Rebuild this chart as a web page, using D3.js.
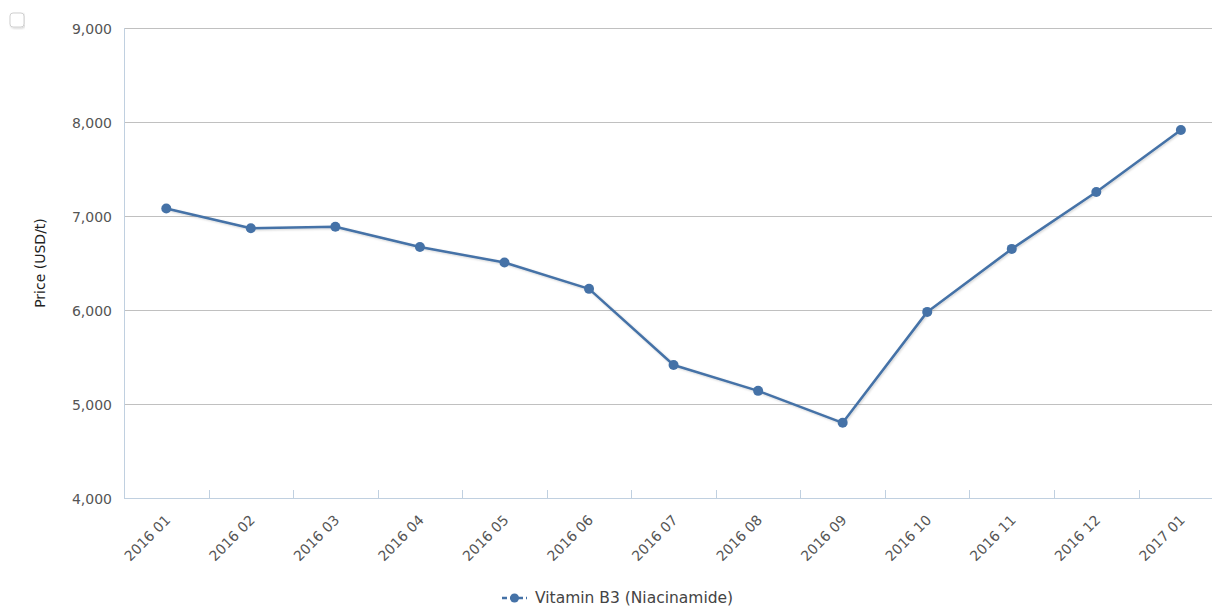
<!DOCTYPE html>
<html>
<head>
<meta charset="utf-8">
<script src="https://cdn.jsdelivr.net/npm/d3@7"></script>
<style>
  body { margin: 0; background: #fff; }
  svg { display: block; font-family: "DejaVu Sans", Verdana, sans-serif; }
</style>
</head>
<body>
<div id="chart"></div>
<script>
var months = ["2016 01", "2016 02", "2016 03", "2016 04", "2016 05", "2016 06", "2016 07",
              "2016 08", "2016 09", "2016 10", "2016 11", "2016 12", "2017 01"];
var prices = [7080, 6870, 6885, 6670, 6505, 6225, 5415, 5140, 4800, 5980, 6650, 7255, 7915];
var yTicks = [4000, 5000, 6000, 7000, 8000, 9000];
var seriesName = "Vitamin B3 (Niacinamide)";
var yTitle = "Price (USD/t)";

var W = 1212, H = 607;
var plotLeft = 124, plotTop = 28, plotBottom = 498;
var step = 84.55;

var svg = d3.select("#chart").append("svg")
  .attr("width", W)
  .attr("height", H);

var x = d3.scaleBand()
  .domain(months)
  .range([plotLeft, plotLeft + step * months.length]);

var y = d3.scaleLinear()
  .domain([4000, 9000])
  .range([plotBottom, plotTop]);

// drop shadow for the line
var defs = svg.append("defs");
var f = defs.append("filter").attr("id", "shadow").attr("x", "-5%").attr("y", "-5%").attr("width", "110%").attr("height", "120%");
f.append("feDropShadow").attr("dx", 1).attr("dy", 1).attr("stdDeviation", 1.2)
  .attr("flood-color", "#000").attr("flood-opacity", 0.18);

// little box top-left
svg.append("rect")
  .attr("x", 10).attr("y", 13).attr("width", 14).attr("height", 14).attr("rx", 3)
  .attr("fill", "#fff").attr("stroke", "#d0d0d0").attr("stroke-width", 1)
  .attr("filter", "url(#shadow)");

// grid lines + y labels
var yAxis = svg.append("g")
  .attr("transform", "translate(" + plotLeft + ",0)")
  .call(d3.axisLeft(y).tickValues(yTicks).tickFormat(d3.format(",")).tickSize(-(W - plotLeft)).tickPadding(12));
yAxis.select(".domain").remove();
yAxis.selectAll(".tick line")
  .attr("stroke", function(d){ return d === 4000 ? "none" : "#c0c0c0"; })
  .attr("stroke-width", 1);
yAxis.selectAll(".tick text")
  .attr("fill", "#555")
  .attr("font-size", 14)
  .attr("font-family", "DejaVu Sans, sans-serif")
  .attr("dy", "0.36em");

// axis lines
svg.append("line")
  .attr("x1", plotLeft + 0.5).attr("x2", plotLeft + 0.5).attr("y1", plotTop).attr("y2", plotBottom)
  .attr("stroke", "#c0d0e0");
svg.append("line")
  .attr("x1", plotLeft).attr("x2", W).attr("y1", plotBottom + 0.5).attr("y2", plotBottom + 0.5)
  .attr("stroke", "#c0d0e0");

// x ticks between categories
svg.append("g").selectAll("line")
  .data(months.slice(1))
  .enter().append("line")
  .attr("x1", function(d){ return Math.round(x(d)) + 0.5; })
  .attr("x2", function(d){ return Math.round(x(d)) + 0.5; })
  .attr("y1", plotBottom).attr("y2", plotBottom - 8)
  .attr("stroke", "#c0d0e0");

// x labels
svg.append("g").selectAll("text")
  .data(months)
  .enter().append("text")
  .attr("transform", function(d){
    return "translate(" + (x(d) + x.bandwidth() / 2 + 5) + "," + (plotBottom + 23) + ") rotate(-45)";
  })
  .attr("text-anchor", "end")
  .attr("font-size", 14)
  .attr("fill", "#555")
  .text(function(d){ return d; });

// y title
svg.append("text")
  .attr("transform", "translate(45," + ((plotTop + plotBottom) / 2) + ") rotate(-90)")
  .attr("text-anchor", "middle")
  .attr("font-size", 14)
  .attr("fill", "#222")
  .text(yTitle);

// series
var pts = months.map(function(m, i){ return {m: m, v: prices[i]}; });
var line = d3.line()
  .x(function(d){ return x(d.m) + x.bandwidth() / 2; })
  .y(function(d){ return y(d.v); });

svg.append("path")
  .datum(pts)
  .attr("d", line)
  .attr("fill", "none")
  .attr("stroke", "#4572a7")
  .attr("stroke-width", 2.5)
  .attr("stroke-linejoin", "round")
  .attr("filter", "url(#shadow)");

svg.append("g").selectAll("circle")
  .data(pts)
  .enter().append("circle")
  .attr("cx", function(d){ return x(d.m) + x.bandwidth() / 2; })
  .attr("cy", function(d){ return y(d.v); })
  .attr("r", 5)
  .attr("fill", "#4572a7");

// legend
var lg = svg.append("g").attr("transform", "translate(502,598)");
lg.append("line")
  .attr("x1", 0).attr("x2", 25).attr("y1", 0).attr("y2", 0)
  .attr("stroke", "#4572a7").attr("stroke-width", 2.5)
  .attr("stroke-dasharray", "5,3");
lg.append("circle").attr("cx", 12.5).attr("cy", 0).attr("r", 4.5).attr("fill", "#4572a7");
lg.append("text")
  .attr("x", 33).attr("y", 5)
  .attr("font-size", 15.5)
  .attr("fill", "#444")
  .text(seriesName);
</script>
</body>
</html>
